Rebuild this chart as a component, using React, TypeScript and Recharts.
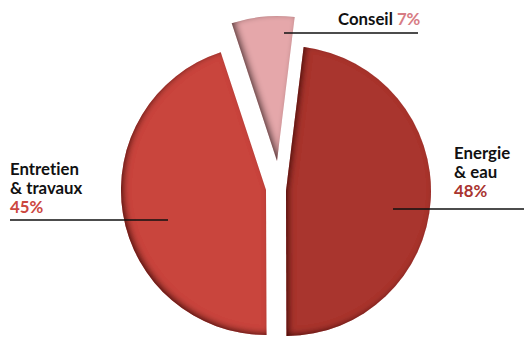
import React from 'react';
import { PieChart, Pie, Cell } from 'recharts';

const categories = ['Energie & eau', 'Entretien & travaux', 'Conseil'];
const values = [48, 45, 7];
const labelLines = [['Energie', '& eau'], ['Entretien', '& travaux'], ['Conseil']];
const percentLabels = ['48%', '45%', '7%'];

const colors = ['#a9342f', '#c9443e', '#e5a7aa'];
const pctColors = ['#a9342f', '#cc4740', '#d77c83'];

const data = categories.map((name, i) => ({ name, value: values[i] }));

// per-slice explosion centres and label layout
const pieLayout = [
  { cx: 286, cy: 191 },
  { cx: 266, cy: 190 },
  { cx: 277, cy: 161 },
];

const labelLayout = [
  { x: 454, y: 159, line: [393, 209, 524, 209], inline: false },
  { x: 10, y: 175, line: [10, 220, 168, 220], inline: false },
  { x: 338, y: 25, line: [284, 33, 418, 33], inline: true },
];

const FONT = 'Lato, "Open Sans", sans-serif';
const FS = 16.8;
const textStyle: React.CSSProperties = {
  fontVariantLigatures: 'none',
  fontFeatureSettings: '"liga" 0, "clig" 0',
};

function renderLabel(i: number) {
  const l = labelLayout[i];
  const [x1, y1, x2, y2] = l.line;
  if (l.inline) {
    return (
      <g key={`lbl-${i}`}>
        <line x1={x1} y1={y1} x2={x2} y2={y2} stroke="#111" strokeWidth={1.5} />
        <text x={l.x} y={l.y} fontFamily={FONT} fontWeight={700} fontSize={FS} fill="#111" style={textStyle}>
          {labelLines[i][0]}{' '}
          <tspan fill={pctColors[i]}>{percentLabels[i]}</tspan>
        </text>
      </g>
    );
  }
  return (
    <g key={`lbl-${i}`}>
      <line x1={x1} y1={y1} x2={x2} y2={y2} stroke="#111" strokeWidth={1.5} />
      <text fontFamily={FONT} fontWeight={700} fontSize={FS} style={textStyle}>
        {labelLines[i].map((t, k) => (
          <tspan key={k} x={l.x} y={l.y + k * 19} fill="#111">{t}</tspan>
        ))}
        <tspan x={l.x} y={l.y + labelLines[i].length * 19} fill={pctColors[i]}>{percentLabels[i]}</tspan>
      </text>
    </g>
  );
}

export default function App() {
  return (
    <div style={{ position: 'absolute', left: 0, top: 0, width: 524, height: 338, background: '#fff' }}>
      <PieChart width={524} height={338} margin={{ top: 0, right: 0, bottom: 0, left: 0 }}>
        <defs>
          <filter id="inset" x="-10%" y="-10%" width="120%" height="120%">
            <feGaussianBlur in="SourceAlpha" stdDeviation="3" result="blur" />
            <feOffset in="blur" dx="3" dy="-2.5" result="off" />
            <feComposite in="SourceAlpha" in2="off" operator="out" result="diff" />
            <feFlood floodColor="#1e0504" floodOpacity="0.9" result="flood" />
            <feComposite in="flood" in2="diff" operator="in" result="shadow" />
            <feGaussianBlur in="SourceGraphic" stdDeviation="0.6" result="soft" />
            <feMerge>
              <feMergeNode in="soft" />
              <feMergeNode in="shadow" />
            </feMerge>
          </filter>
        </defs>
        {pieLayout.map((p, focus) => (
          <Pie
            key={focus}
            data={data}
            dataKey="value"
            nameKey="name"
            cx={p.cx}
            cy={p.cy}
            innerRadius={0}
            outerRadius={145}
            startAngle={83}
            endAngle={-277}
            stroke="none"
            isAnimationActive={false}
            labelLine={false}
            label={(props: any) => (props.index === focus ? renderLabel(focus) : null)}
          >
            {data.map((_, i) => (
              <Cell
                key={i}
                fill={i === focus ? colors[i] : 'transparent'}
                filter={i === focus ? 'url(#inset)' : undefined}
              />
            ))}
          </Pie>
        ))}
      </PieChart>
    </div>
  );
}
